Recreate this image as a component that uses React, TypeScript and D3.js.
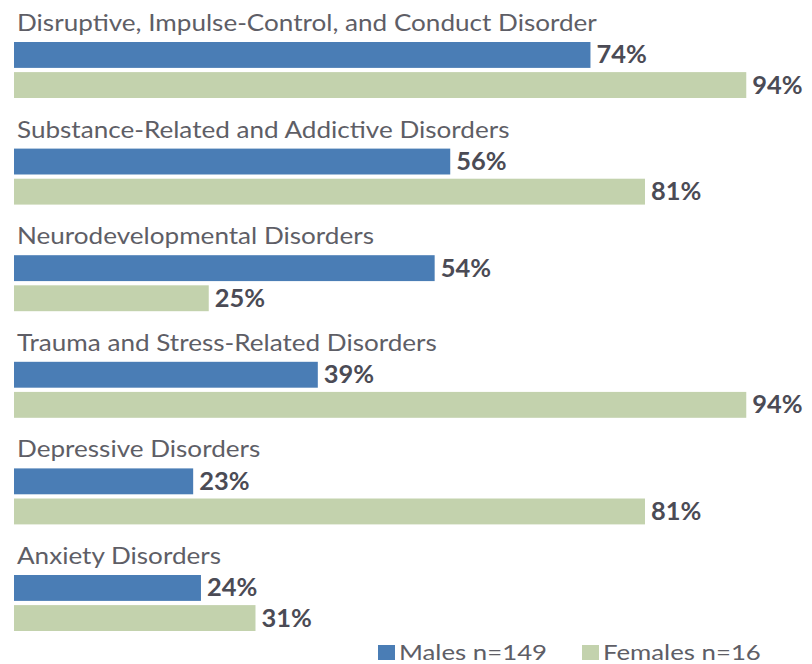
import React, {useRef, useEffect} from "react";
import {select, scaleBand, scaleLinear} from "d3";

const categories = [
    "Disruptive, Impulse-Control, and Conduct Disorder",
    "Substance-Related and Addictive Disorders",
    "Neurodevelopmental Disorders",
    "Trauma and Stress-Related Disorders",
    "Depressive Disorders",
    "Anxiety Disorders",
];
const seriesNames = ["Males n=149", "Females n=16"];
const males = [74, 56, 54, 39, 23, 24];
const females = [94, 81, 25, 94, 81, 31];
const colors = ["#4a7db5", "#c3d2ad"];

export default function App() {
    const svgRef = useRef<SVGSVGElement | null>(null);

    const width = 812;
    const height = 664;
    const marginLeft = 14;
    const groupTop = 42;
    const groupStep = 106.6;
    // the source image is a bit wider than tall, so the text is stretched
    const stretch = 1.16;

    useEffect(() => {
        const svg = select(svgRef.current);
        if (!svgRef.current) return;
        svg.selectAll("*").remove();

        const yScale = scaleBand()
            .domain(categories)
            .range([groupTop, groupTop + groupStep * categories.length])
            .paddingInner(0)
            .paddingOuter(0);

        const ySub = scaleBand()
            .domain(seriesNames)
            .range([0, 56])
            .paddingInner(0.14);

        const xScale = scaleLinear()
            .domain([0, 100])
            .range([marginLeft, marginLeft + 779]);

        const rows = categories.map((c, i) => ({
            category: c,
            values: [males[i], females[i]],
        }));

        const g = svg
            .selectAll(".group")
            .data(rows)
            .join("g")
            .attr("class", "group")
            .attr("transform", (d) => `translate(0,${yScale(d.category) || 0})`);

        // category labels
        g.append("text")
            .attr("transform", `translate(${marginLeft + 3},-11) scale(${stretch},1)`)
            .attr("fill", "#5e5e66")
            .attr("font-family", "Lato, sans-serif")
            .attr("font-size", 22.5)
            .text((d) => d.category);

        // bars
        g.selectAll(".bar")
            .data((d) => d.values.map((v, i) => ({value: v, series: seriesNames[i], idx: i})))
            .join("rect")
            .attr("class", "bar")
            .attr("x", xScale(0))
            .attr("y", (d) => ySub(d.series) || 0)
            .attr("width", (d) => xScale(d.value) - xScale(0))
            .attr("height", ySub.bandwidth())
            .attr("fill", (d) => colors[d.idx]);

        // value labels
        g.selectAll(".label-value")
            .data((d) => d.values.map((v, i) => ({value: v, series: seriesNames[i]})))
            .join("text")
            .attr("class", "label-value")
            .attr(
                "transform",
                (d) =>
                    `translate(${xScale(d.value) + 6},${(ySub(d.series) || 0) + ySub.bandwidth() / 2 + 8.5}) scale(1.06,1)`
            )
            .attr("fill", "#4b4b55")
            .attr("font-family", "Lato, sans-serif")
            .attr("font-weight", "bold")
            .attr("font-size", 24)
            .text((d) => `${d.value}%`);

        // legend
        const legendX = [378, 582];
        const legend = svg
            .selectAll(".legend")
            .data(seriesNames)
            .join("g")
            .attr("class", "legend")
            .attr("transform", (d, i) => `translate(${legendX[i]},645)`);
        legend
            .append("rect")
            .attr("width", 17)
            .attr("height", 15)
            .attr("fill", (d, i) => colors[i]);
        legend
            .append("text")
            .attr("transform", `translate(21,14.5) scale(1.2,1)`)
            .attr("fill", "#5e5e66")
            .attr("font-family", "Lato, sans-serif")
            .attr("font-size", 21.5)
            .text((d) => d);
    }, []);

    return (
        <div style={{position: "absolute", left: 0, top: 0}}>
            <svg ref={svgRef} width={width} height={height} style={{display: "block", background: "#fff"}}></svg>
        </div>
    );
}
